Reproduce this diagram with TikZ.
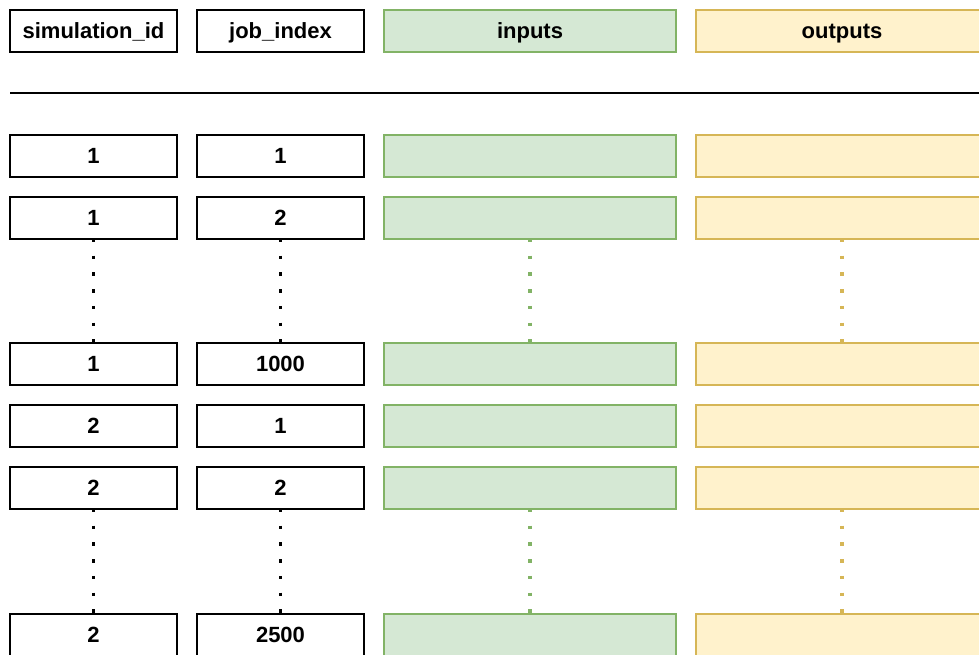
\documentclass[tikz,border=0pt]{standalone}
\usepackage{fontspec}
\setmainfont{Liberation Sans}
\definecolor{ingreen}{HTML}{D5E8D4}
\definecolor{ingreenline}{HTML}{82B366}
\definecolor{outyellow}{HTML}{FFF2CC}
\definecolor{outyellowline}{HTML}{D6B656}
\tikzset{
  cellbase/.style={rectangle, inner sep=0pt, outer sep=0pt, line width=1.3pt,
    minimum height=31.5pt, text height=11.8pt, text depth=0pt,
    font=\bfseries\fontsize{16.5}{20}\selectfont},
  cell/.style={cellbase, draw=black, fill=white, minimum width=125.25pt},
  incell/.style={cellbase, draw=ingreenline, fill=ingreen, minimum width=219pt},
  outcell/.style={cellbase, draw=outyellowline, fill=outyellow, minimum width=219pt},
  gapdots/.style={line width=2.5pt, line cap=butt, dash pattern=on 2.6pt off 9.95pt},
  blackdots/.style={gapdots, draw=black},
  greendots/.style={gapdots, draw=ingreenline},
  yellowdots/.style={gapdots, draw=outyellowline},
  rule/.style={line width=1.3pt, draw=black}
}
\begin{document}
\begin{tikzpicture}[x=0.75pt, y=-0.75pt]
  \useasboundingbox (0,0) rectangle (979,655);
  \clip (0,0) rectangle (979,655);
  \fill[white] (0,0) rectangle (979,655);

  % column headers
  \node[cell] (hs) at (93.5,31) {simulation\_id};
  \node[cell] (hj) at (280.5,31) {job\_index};
  \node[incell] (hi) at (530,31) {inputs};
  \node[outcell] (ho) at (842,31) {outputs};

  % separator under the header
  \coordinate (ruleL) at (10,93);
  \coordinate (ruleR) at (979,93);
  \draw[rule] (ruleL) -- (ruleR);

  % table rows
  \foreach \r/\y/\s/\j in {1/156/1/1, 2/218/1/2, 3/364/1/1000,
                           4/426/2/1, 5/488/2/2, 6/635/2/2500} {
    \node[cell] (s\r) at (93.5,\y) {\s};
    \node[cell] (j\r) at (280.5,\y) {\j};
    \node[incell] (i\r) at (530,\y) {};
    \node[outcell] (o\r) at (842,\y) {};
  }

  % elided rows
  \foreach \a/\b in {2/3, 5/6} {
    \draw[blackdots] (s\a.south) -- (s\b.north);
    \draw[blackdots] (j\a.south) -- (j\b.north);
    \draw[greendots] (i\a.south) -- (i\b.north);
    \draw[yellowdots] (o\a.south) -- (o\b.north);
  }
\end{tikzpicture}
\end{document}
